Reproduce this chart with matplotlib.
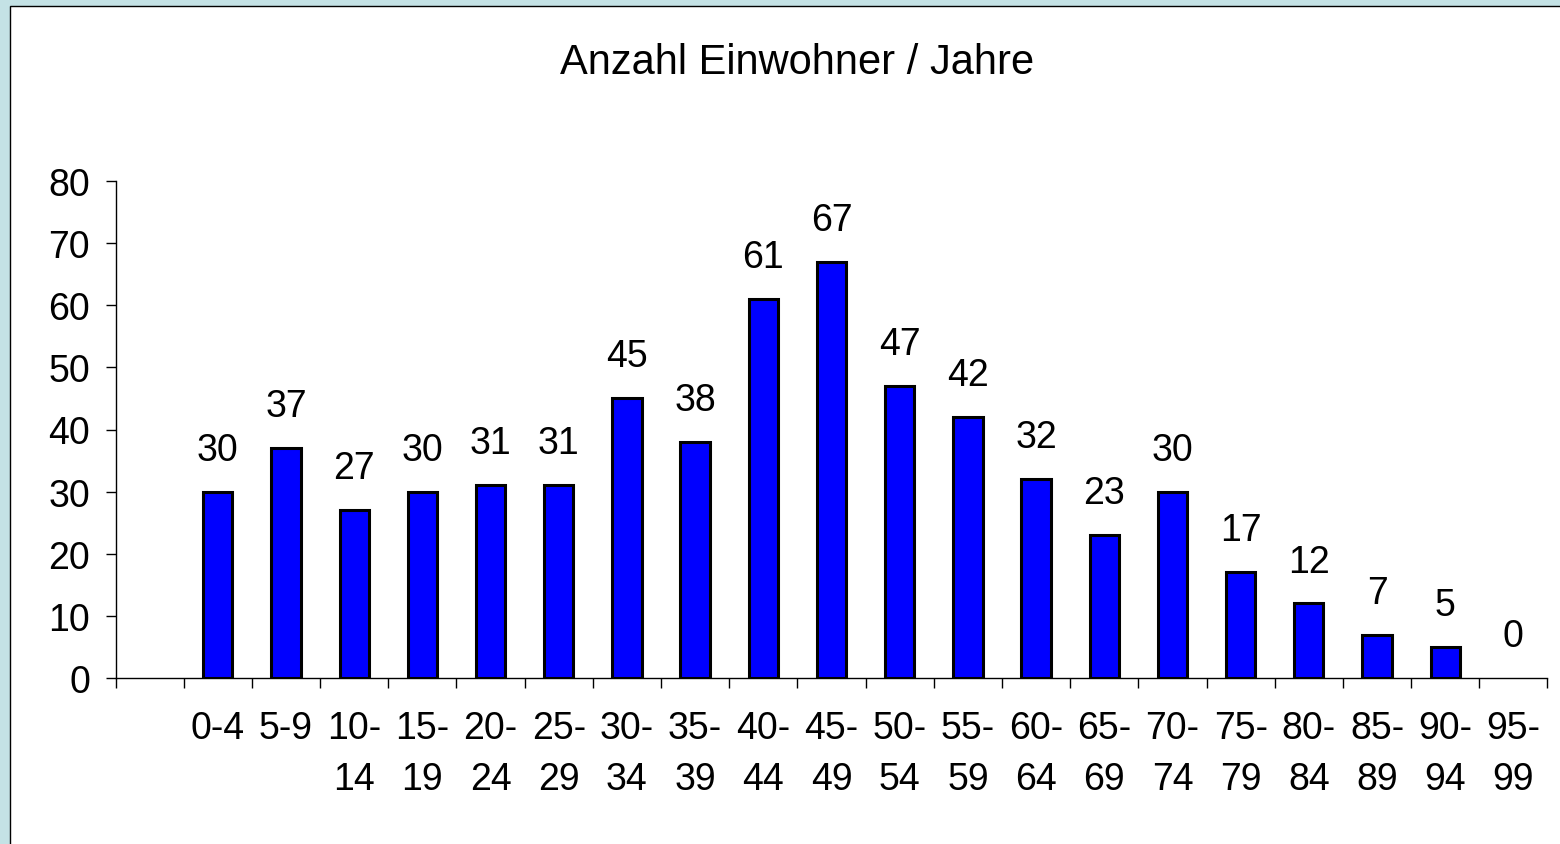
import matplotlib
matplotlib.use("Agg")
import matplotlib.pyplot as plt
from matplotlib.patches import Rectangle
import numpy as np

plt.rcParams['font.family'] = ['Liberation Sans', 'DejaVu Sans']

categories = ["0-4", "5-9", "10-\n14", "15-\n19", "20-\n24", "25-\n29", "30-\n34",
              "35-\n39", "40-\n44", "45-\n49", "50-\n54", "55-\n59", "60-\n64",
              "65-\n69", "70-\n74", "75-\n79", "80-\n84", "85-\n89", "90-\n94", "95-\n99"]
values = [30, 37, 27, 30, 31, 31, 45, 38, 61, 67, 47, 42, 32, 23, 30, 17, 12, 7, 5, 0]
yticks = [0, 10, 20, 30, 40, 50, 60, 70, 80]
title = "Anzahl Einwohner / Jahre"

W, H = 1560, 845
fig = plt.figure(figsize=(W / 100, H / 100), dpi=100)
fig.patch.set_facecolor('#C4E2E5')

# white chart panel
panel = Rectangle((10 / W, -0.01), 1.0, 1 - 7 / H + 0.01,
                  transform=fig.transFigure, facecolor='white',
                  edgecolor='black', linewidth=1.0, zorder=-10)
fig.patches.append(panel)

ax = fig.add_axes([115.5 / W, 1 - 679 / H, (1547.5 - 115.5) / W, (679 - 182) / H])
ax.set_facecolor('none')
ax.set_zorder(5)

FS = 27
x = np.arange(len(values))
ax.bar(x, values, width=0.43, color='#0000FF', edgecolor='black',
       linewidth=[2.2 if v > 0 else 0 for v in values], zorder=3)

for xi, v in zip(x, values):
    ax.annotate(str(v), (xi, v), xytext=(0, 23), textcoords='offset points',
                ha='center', va='baseline', fontsize=FS, color='black')

ax.set_xlim(-1.5, len(values) - 0.5)
ax.set_ylim(0, 80)
ax.set_yticks(yticks)
ax.set_yticklabels([str(t) for t in yticks], fontsize=FS)

ax.set_xticks(np.arange(-1.5, len(values), 1.0))
ax.set_xticklabels([])
ax.set_xticks(x, minor=True)
ax.set_xticklabels(categories, minor=True, fontsize=FS, linespacing=1.55)
ax.tick_params(axis='x', which='major', direction='out', length=7.2, width=1.0, color='black')
ax.tick_params(axis='x', which='minor', length=0, pad=23)
ax.tick_params(axis='y', direction='out', length=7.2, width=1.0, pad=11, color='black')

for s in ['top', 'right']:
    ax.spines[s].set_visible(False)
for s in ['left', 'bottom']:
    ax.spines[s].set_linewidth(1.0)
    ax.spines[s].set_color('black')

fig.text(797 / W, 1 - 74 / H, title, ha='center', va='baseline', fontsize=30)

fig.savefig('out.png', dpi=100, facecolor=fig.get_facecolor())
